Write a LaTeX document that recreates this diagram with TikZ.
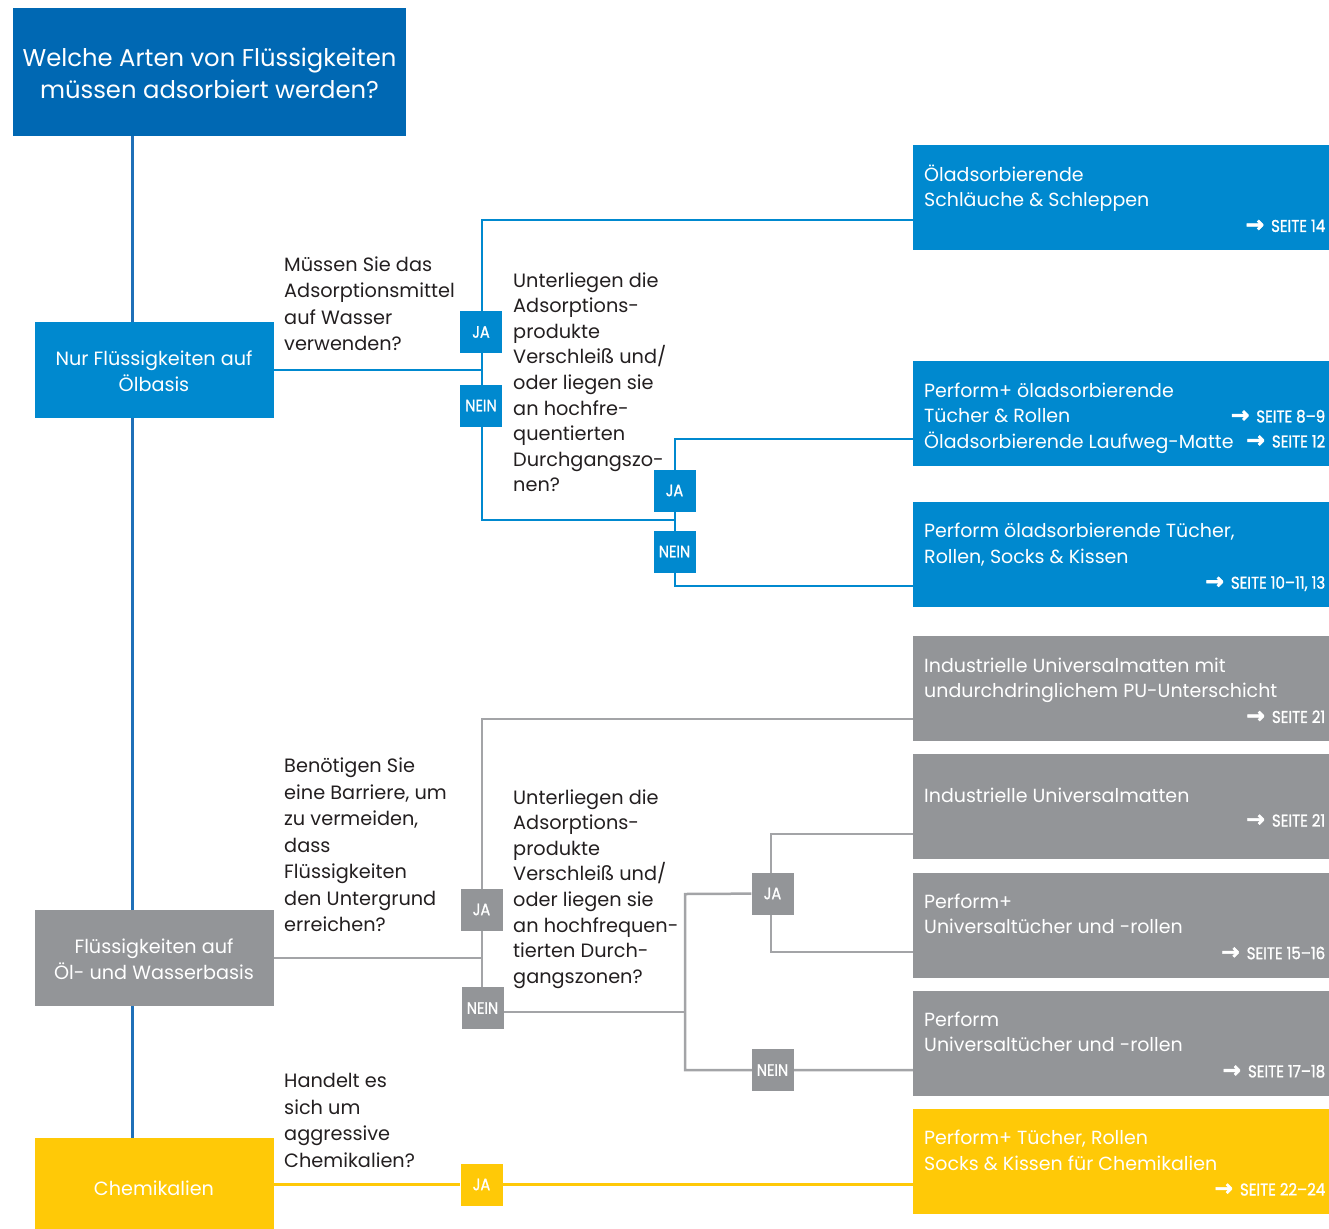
\documentclass[tikz,border=0pt]{standalone}
\usepackage{fontspec}
\setmainfont{Poppins}
\newfontfamily\labelfont[FakeStretch=0.88, FakeBold=1.2]{Poppins}
\newfontfamily\arrowfont[FakeBold=2.5]{DejaVu Sans}
\usetikzlibrary{positioning, backgrounds}
\definecolor{headblue}{HTML}{0068B3}
\definecolor{oilblue}{HTML}{0089CF}
\definecolor{mixgray}{HTML}{939598}
\definecolor{chemyellow}{HTML}{FFC907}
\definecolor{trunkblue}{HTML}{1F70B8}
\definecolor{linegray}{HTML}{A3A4A7}
\definecolor{qtext}{HTML}{231F20}
\tikzset{node distance = 1cm}
\newcommand{\seite}[1]{{\arrowfont\bfseries\fontsize{22}{16}\selectfont →}\hspace{7pt}{\labelfont SEITE #1}}

\begin{document}
\begin{tikzpicture}[x=1pt, y=-1pt, box/.style={rectangle, inner sep=0pt, anchor=north west},
head_box/.style={box, fill=headblue, minimum width=393pt, minimum height=128pt},
cat_box/.style={box, minimum width=239pt, minimum height=96pt},
prod_box/.style={box, minimum width=416pt, minimum height=105pt},
box_text/.style={inner sep=0pt, anchor=base west, text=white, align=left, font=\fontsize{19}{25.5}\selectfont},
cat_text/.style={inner sep=0pt, anchor=base, text=white, align=center, font=\fontsize{19.2}{26}\selectfont},
question/.style={inner sep=0pt, anchor=base west, text=qtext, align=left, font=\fontsize{19.3}{26.5}\selectfont},
page_ref/.style={inner sep=0pt, anchor=base east, text=white, font=\fontsize{17}{16}\selectfont},
answer/.style={rectangle, inner sep=0pt, minimum width=42pt, minimum height=42pt, text=white, font=\fontsize{16.5}{16}\selectfont\labelfont},
line_trunk/.style={draw=trunkblue, line width=3pt},
line_blue/.style={draw=oilblue, line width=2.5pt},
line_gray/.style={draw=linegray, line width=2.5pt},
line_yellow/.style={draw=chemyellow, line width=2.5pt}]
    \useasboundingbox (0,0) rectangle (1329,1228);

    \node[head_box] (head) at (13,8) {};
    \node[cat_text, font=\fontsize{24.3}{32}\selectfont] (head_text) at (209.5,99) {Welche Arten von Flüssigkeiten\\müssen adsorbiert werden?};

    \node[cat_box, fill=oilblue] (oil) at (35,322) {};
    \node[cat_text] (oil_text) at (154,391.5) {Nur Flüssigkeiten auf\\Ölbasis};
    \node[cat_box, fill=mixgray] (mix) at (35,910) {};
    \node[cat_text] (mix_text) at (154,979) {Flüssigkeiten auf\\Öl- und Wasserbasis};
    \node[cat_box, fill=chemyellow] (chem) at (35,1138) {};
    \node[cat_text] (chem_text) at (154,1195) {Chemikalien};

    \node[question] (q_water) at (284,350.5) {Müssen Sie das\\Adsorptionsmittel\\auf Wasser\\verwenden?};
    \node[question, font=\fontsize{19.3}{25.6}\selectfont] (q_wear_oil) at (513,491.8) {Unterliegen die\\Adsorptions-\\produkte\\Verschleiß und/\\oder liegen sie\\an hochfre-\\quentierten\\Durchgangszo-\\nen?};
    \node[question] (q_barrier) at (284,931.5) {Benötigen Sie\\eine Barriere, um\\zu vermeiden,\\dass\\Flüssigkeiten\\den Untergrund\\erreichen?};
    \node[question, font=\fontsize{19.3}{25.6}\selectfont] (q_wear_mix) at (513,983.2) {Unterliegen die\\Adsorptions-\\produkte\\Verschleiß und/\\oder liegen sie\\an hochfrequen-\\tierten Durch-\\gangszonen?};
    \node[question] (q_chem) at (284,1167) {Handelt es\\sich um\\aggressive\\Chemikalien?};

    \node[prod_box, fill=oilblue] (p_hose) at (913,145) {};
    \node[prod_box, fill=oilblue, below=110pt of p_hose] (p_plus) {};
    \node[prod_box, fill=oilblue, below=36pt of p_plus] (p_oil) {};
    \node[prod_box, fill=mixgray] (g_pu) at (913,636) {};
    \node[prod_box, fill=mixgray, below=12.75pt of g_pu] (g_mat) {};
    \node[prod_box, fill=mixgray, below=12.75pt of g_mat] (g_plus) {};
    \node[prod_box, fill=mixgray, below=12.75pt of g_plus] (g_std) {};
    \node[prod_box, fill=chemyellow, below=12.75pt of g_std] (y_chem) {};

    \node[box_text] (p_hose_text) at ([shift={(11,61.5)}]p_hose.north west) {Öladsorbierende\\Schläuche \& Schleppen};
    \node[box_text] (p_plus_text) at ([shift={(11,88)}]p_plus.north west) {Perform+ öladsorbierende\\Tücher \& Rollen\\Öladsorbierende Laufweg-Matte};
    \node[box_text] (p_oil_text) at ([shift={(11,61.5)}]p_oil.north west) {Perform öladsorbierende Tücher,\\Rollen, Socks \& Kissen};
    \node[box_text] (g_pu_text) at ([shift={(11,61.5)}]g_pu.north west) {Industrielle Universalmatten mit\\undurchdringlichem PU-Unterschicht};
    \node[box_text] (g_mat_text) at ([shift={(11,48)}]g_mat.north west) {Industrielle Universalmatten};
    \node[box_text] (g_plus_text) at ([shift={(11,61.5)}]g_plus.north west) {Perform+\\Universaltücher und -rollen};
    \node[box_text] (g_std_text) at ([shift={(11,61.5)}]g_std.north west) {Perform\\Universaltücher und -rollen};
    \node[box_text] (y_chem_text) at ([shift={(11,61.5)}]y_chem.north west) {Perform+ Tücher, Rollen\\Socks \& Kissen für Chemikalien};

    \node[page_ref] (p_hose_ref) at ([shift={(-4,-18.5)}]p_hose.south east) {\seite{14}};
    \node[page_ref] (p_plus_ref) at ([shift={(-4,62)}]p_plus.north east) {\seite{8–9}};
    \node[page_ref] (p_mat_ref) at ([shift={(-4,87)}]p_plus.north east) {\seite{12}};
    \node[page_ref] (p_oil_ref) at ([shift={(-4,-18.5)}]p_oil.south east) {\seite{10–11, 13}};
    \node[page_ref] (g_pu_ref) at ([shift={(-4,-18.5)}]g_pu.south east) {\seite{21}};
    \node[page_ref] (g_mat_ref) at ([shift={(-4,-33)}]g_mat.south east) {\seite{21}};
    \node[page_ref] (g_plus_ref) at ([shift={(-4,-18.5)}]g_plus.south east) {\seite{15–16}};
    \node[page_ref] (g_std_ref) at ([shift={(-4,-18.5)}]g_std.south east) {\seite{17–18}};
    \node[page_ref] (y_chem_ref) at ([shift={(-4,-18.5)}]y_chem.south east) {\seite{22–24}};

    \node[answer, fill=oilblue] (ja_water) at (481,332) {JA};
    \node[answer, fill=oilblue] (nein_water) at (481,405.5) {NEIN};
    \node[answer, fill=oilblue] (ja_wear_oil) at (674.5,490.5) {JA};
    \node[answer, fill=oilblue] (nein_wear_oil) at (674.5,551.5) {NEIN};
    \node[answer, fill=mixgray] (ja_barrier) at (481.5,909.5) {JA};
    \node[answer, fill=mixgray] (nein_barrier) at (482.5,1008) {NEIN};
    \node[answer, fill=mixgray] (ja_wear_mix) at (772.5,893.5) {JA};
    \node[answer, fill=mixgray] (nein_wear_mix) at (772.5,1070) {NEIN};
    \node[answer, fill=chemyellow] (ja_chem) at (481.5,1184.5) {JA};

    \coordinate (trunk_top) at (132,136);
    \coordinate (trunk_bot) at (132,1138);
    \coordinate (oil_top) at (482,220);
    \coordinate (oil_bot) at (482,520);
    \coordinate (wear_oil_top) at (675,439);
    \coordinate (wear_oil_bot) at (675,586);
    \coordinate (mix_top) at (482,719);
    \coordinate (mix_bot) at (482,1012);
    \coordinate (wear_mix_top) at (685,894);
    \coordinate (wear_mix_bot) at (685,1070);
    \coordinate (ja_mix_top) at (771,834);
    \coordinate (ja_mix_bot) at (771,952);

    \begin{scope}[on background layer]
    \draw[line_trunk] (trunk_top) -- (trunk_bot);
    \draw[line_blue] (oil.east) -- (oil.east -| oil_top);
    \draw[line_blue] (p_hose.west |- oil_top) -- (oil_top) -- (oil_bot) -- (oil_bot -| wear_oil_top);
    \draw[line_blue] (p_plus.west |- wear_oil_top) -- (wear_oil_top) -- (wear_oil_bot) -- (wear_oil_bot -| p_oil.west);
    \draw[line_gray] (mix.east) -- (mix.east -| mix_top);
    \draw[line_gray] (g_pu.west |- mix_top) -- (mix_top) -- (mix_bot) -- (mix_bot -| wear_mix_top);
    \draw[line_gray] (ja_wear_mix) -- (wear_mix_top) -- (wear_mix_bot) -- (wear_mix_bot -| g_std.west);
    \draw[line_gray] (g_mat.west |- ja_mix_top) -- (ja_mix_top) -- (ja_mix_bot) -- (ja_mix_bot -| g_plus.west);
    \draw[line_yellow] (chem.east |- ja_chem) -- (ja_chem) -- (ja_chem -| y_chem.west);
    \end{scope}
\end{tikzpicture}
\end{document}
